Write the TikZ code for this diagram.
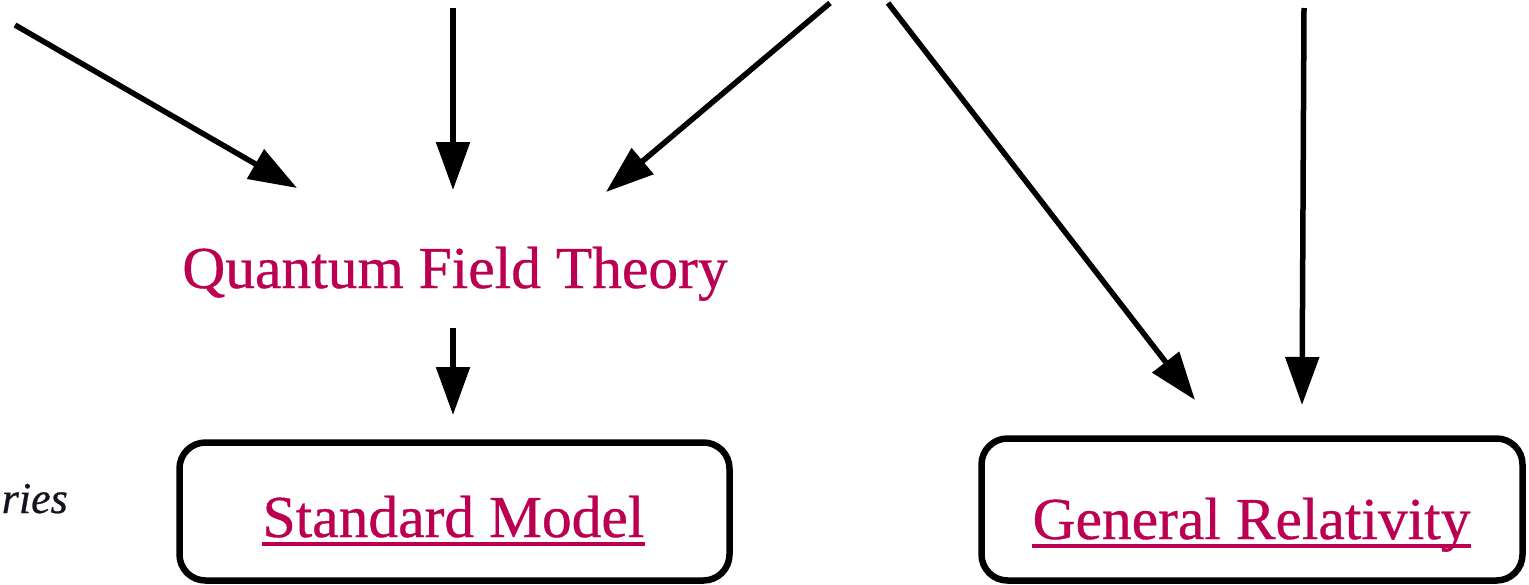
\documentclass[tikz,border=0pt]{standalone}
\usepackage{fontspec}
\setmainfont{Liberation Serif}[FakeBold=0.6]
\usetikzlibrary{arrows.meta}
\definecolor{linkred}{RGB}{187,0,82}
\definecolor{darktxt}{RGB}{20,20,30}
\tikzset{
  arr/.style={line width=5.5pt, -{Triangle[length=48pt,width=33pt]}},
  box/.style={draw, line width=6.5pt, rounded corners=26pt, inner sep=0pt},
  lbl/.style={text=linkred, inner sep=0pt, anchor=base, font=\fontsize{59.5}{70}\selectfont},
  uline/.style={draw=linkred, line width=3.5pt},
}
\begin{document}
\begin{tikzpicture}[x=1pt,y=-1pt]
\useasboundingbox (0,0) rectangle (1529,584);
% boxes
\node[box, minimum width=550pt, minimum height=138pt] (smbox) at (454.5,511.5) {};
\node[box, minimum width=541pt, minimum height=142pt] (grbox) at (1252,509.5) {};
% labels
\node[lbl] (qft) at (455,288) {Quantum Field Theory};
\node[lbl] (sm) at (453.5,537) {Standard Model};
\node[lbl] (gr) at (1251.5,539) {General Relativity};
\draw[uline] ([yshift=-7pt]sm.base west) -- ([yshift=-7pt]sm.base east);
\draw[uline] ([yshift=-7pt]gr.base west) -- ([yshift=-7pt]gr.base east);
\node[text=darktxt, inner sep=0pt, anchor=base east, font=\fontsize{44}{50}\selectfont\itshape] (ries) at (68,513) {ries};
% arrow ends
\coordinate (s1) at (15,25);   \coordinate (t1) at (297,188);
\coordinate (s2) at (453,8);   \coordinate (t2) at (453,190);
\coordinate (s3) at (830,3);   \coordinate (t3) at (606,192);
\coordinate (s4) at (888,3);   \coordinate (t4) at (1195,400);
\coordinate (s5) at (1304,8);  \coordinate (t5) at (1302,405);
\coordinate (s6) at (453,328); \coordinate (t6) at (453,415);
\draw[arr] (s1) -- (t1);
\draw[arr] (s2) -- (t2);
\draw[arr] (s3) -- (t3);
\draw[arr] (s4) -- (t4);
\draw[arr] (s5) -- (t5);
\draw[arr] (s6) -- (t6);
\end{tikzpicture}
\end{document}
